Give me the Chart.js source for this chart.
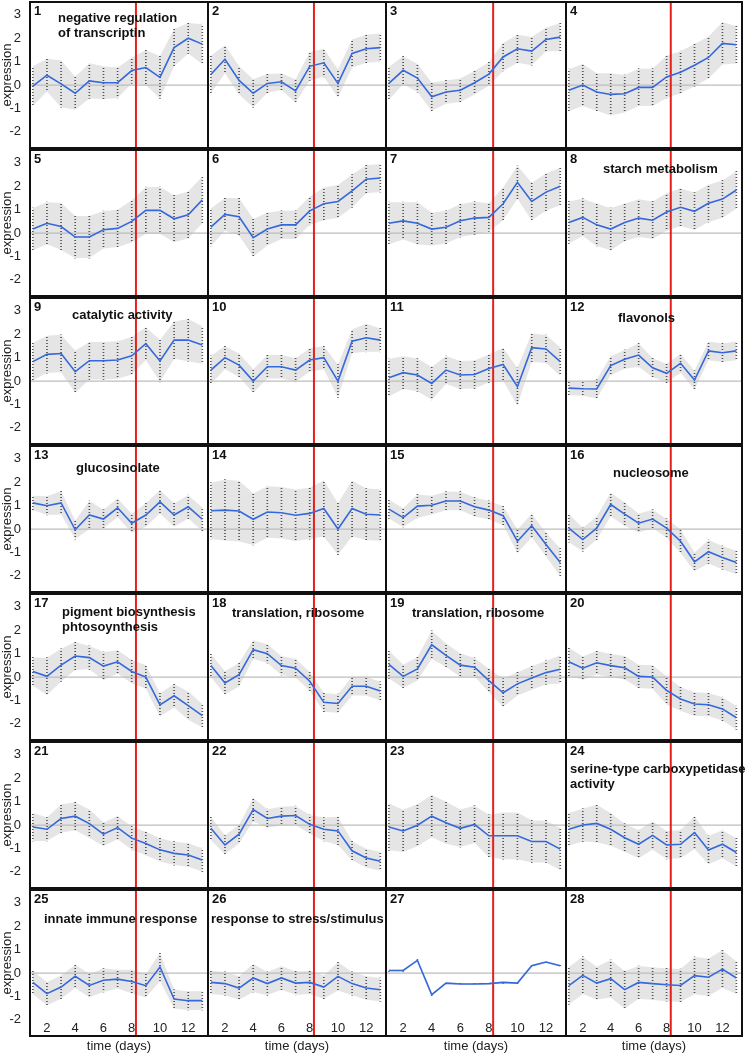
<!DOCTYPE html>
<html>
<head>
<meta charset="utf-8">
<script src="https://cdn.jsdelivr.net/npm/chart.js@4.4.1/dist/chart.umd.min.js"></script>
<style>
  body { margin: 0; background: #fff; width: 749px; height: 1053px; position: relative; overflow: hidden;
         font-family: "Liberation Sans", Arial, sans-serif; }
  canvas { position: absolute; }
  .box { position: absolute; border: 2px solid #111; box-sizing: border-box; pointer-events: none; }
  .num, .ttl { position: absolute; font-weight: bold; font-size: 13px; line-height: 15px; color: #111; white-space: nowrap; }
</style>
</head>
<body>
<script>
// time points (days) and the treatment day marked in red
const days = [1, 2, 3, 4, 5, 6, 7, 8, 9, 10, 11, 12, 13];
const treatmentDay = 8.3;
const xTicks = [2, 4, 6, 8, 10, 12];
const yTicks = [-2, -1, 0, 1, 2, 3];

// cluster mean profiles
const c1  = [-0.05, 0.42, 0.05, -0.35, 0.18, 0.1, 0.1, 0.62, 0.75, 0.33, 1.6, 2.0, 1.75];
const c2  = [0.45, 1.1, 0.2, -0.35, 0.07, 0.14, -0.25, 0.8, 0.95, 0.07, 1.35, 1.55, 1.6];
const c3  = [0.07, 0.63, 0.3, -0.5, -0.3, -0.22, 0.1, 0.47, 1.2, 1.55, 1.45, 1.95, 2.05];
const c4  = [-0.22, 0, -0.3, -0.4, -0.37, -0.1, -0.1, 0.35, 0.55, 0.85, 1.18, 1.78, 1.72];
const c5  = [0.17, 0.42, 0.28, -0.17, -0.17, 0.14, 0.2, 0.5, 0.97, 0.97, 0.61, 0.78, 1.42];
const c6  = [0.25, 0.8, 0.7, -0.2, 0.17, 0.35, 0.35, 0.95, 1.25, 1.35, 1.8, 2.3, 2.35];
const c7  = [0.42, 0.52, 0.42, 0.17, 0.25, 0.53, 0.64, 0.67, 1.25, 2.17, 1.35, 1.75, 2.0];
const c8  = [0.45, 0.67, 0.35, 0.17, 0.45, 0.64, 0.55, 0.9, 1.1, 0.93, 1.27, 1.45, 1.84];
const c9  = [0.83, 1.14, 1.18, 0.4, 0.87, 0.87, 0.9, 1.08, 1.6, 0.86, 1.75, 1.75, 1.54];
const c10 = [0.47, 1.0, 0.68, 0, 0.61, 0.61, 0.47, 0.9, 1.0, 0, 1.7, 1.85, 1.75];
const c11 = [0.14, 0.36, 0.26, -0.1, 0.47, 0.26, 0.28, 0.54, 0.71, -0.24, 1.43, 1.37, 0.83];
const c12 = [-0.3, -0.33, -0.34, 0.66, 0.93, 1.11, 0.57, 0.33, 0.76, 0.04, 1.29, 1.21, 1.29];
const c13 = [1.12, 1.0, 1.12, -0.03, 0.6, 0.43, 0.91, 0.25, 0.6, 1.16, 0.6, 0.95, 0.42];
const c14 = [0.78, 0.81, 0.77, 0.42, 0.73, 0.7, 0.59, 0.67, 0.88, 0, 0.88, 0.63, 0.6];
const c15 = [0.85, 0.49, 0.98, 1.02, 1.2, 1.2, 0.95, 0.81, 0.57, -0.52, 0.14, -0.66, -1.43];
const c16 = [0.04, -0.45, 0.04, 1.05, 0.64, 0.25, 0.43, 0.04, -0.52, -1.4, -0.97, -1.22, -1.43];
const c17 = [0.24, 0.03, 0.51, 0.9, 0.83, 0.47, 0.65, 0.24, 0, -1.19, -0.8, -1.22, -1.65];
const c18 = [0.49, -0.25, 0.1, 1.17, 1.0, 0.49, 0.38, -0.18, -1.08, -1.13, -0.39, -0.39, -0.6];
const c19 = [0.54, 0.03, 0.35, 1.38, 0.93, 0.51, 0.42, -0.15, -0.67, -0.29, -0.04, 0.19, 0.33];
const c20 = [0.65, 0.38, 0.61, 0.49, 0.4, 0.03, 0, -0.57, -0.94, -1.15, -1.18, -1.36, -1.74];
const c21 = [-0.08, -0.18, 0.28, 0.38, 0.06, -0.39, -0.11, -0.56, -0.79, -1.06, -1.21, -1.28, -1.49];
const c22 = [-0.14, -0.85, -0.39, 0.66, 0.28, 0.38, 0.41, 0.03, -0.18, -0.25, -1.1, -1.41, -1.55];
const c23 = [-0.08, -0.25, -0.01, 0.38, 0.1, -0.14, 0.03, -0.46, -0.46, -0.46, -0.7, -0.7, -1.03];
const c24 = [-0.18, 0, 0.07, -0.18, -0.54, -0.82, -0.44, -0.85, -0.82, -0.32, -1.07, -0.82, -1.17];
const c25 = [-0.4, -0.88, -0.6, -0.14, -0.53, -0.31, -0.26, -0.36, -0.54, 0.26, -1.11, -1.18, -1.18];
const c26 = [-0.4, -0.45, -0.64, -0.21, -0.45, -0.21, -0.43, -0.4, -0.6, -0.14, -0.45, -0.64, -0.71];
const c27 = [0.11, 0.11, 0.54, -0.92, -0.43, -0.47, -0.47, -0.45, -0.4, -0.43, 0.31, 0.47, 0.31];
const c28 = [-0.54, -0.1, -0.43, -0.24, -0.71, -0.4, -0.45, -0.5, -0.53, -0.11, -0.18, 0.17, -0.21];

// half-width of the gene cloud around each mean
const s1  = [0.85, 0.7, 1.0, 0.7, 0.75, 0.7, 0.65, 0.55, 0.75, 0.9, 0.8, 0.65, 0.85];
const s2  = [0.8, 0.6, 0.6, 0.6, 0.4, 0.35, 0.5, 0.6, 0.6, 0.6, 0.6, 0.6, 0.6];
const s3  = [0.7, 0.6, 0.6, 0.6, 0.5, 0.5, 0.5, 0.5, 0.6, 0.6, 0.6, 0.5, 0.6];
const s4  = [0.9, 0.9, 0.8, 0.9, 0.8, 0.8, 0.8, 0.9, 0.9, 0.9, 0.9, 0.9, 0.8];
const s5  = [0.9, 0.9, 1.0, 0.9, 0.9, 0.8, 0.8, 0.9, 1.0, 1.0, 1.0, 1.0, 1.0];
const s6  = [0.8, 0.7, 0.8, 0.8, 0.7, 0.6, 0.6, 0.6, 0.7, 0.7, 0.7, 0.6, 0.6];
const s7  = [0.9, 0.8, 0.9, 0.7, 0.7, 0.7, 0.7, 0.6, 0.7, 0.7, 0.8, 0.8, 0.8];
const s8  = [0.9, 0.8, 0.9, 0.9, 0.8, 0.8, 0.8, 0.8, 0.8, 0.8, 0.8, 0.8, 0.8];
const s9  = [0.8, 0.8, 0.8, 0.9, 0.8, 0.8, 0.8, 0.8, 0.7, 0.9, 0.8, 0.9, 0.8];
const s10 = [0.6, 0.5, 0.5, 0.5, 0.5, 0.5, 0.5, 0.5, 0.5, 0.7, 0.5, 0.6, 0.5];
const s11 = [0.8, 0.7, 0.7, 0.7, 0.6, 0.6, 0.6, 0.6, 0.7, 0.8, 0.6, 0.6, 0.6];
const s12 = [0.3, 0.3, 0.4, 0.4, 0.4, 0.5, 0.4, 0.4, 0.4, 0.4, 0.4, 0.4, 0.4];
const s13 = [0.3, 0.4, 0.5, 0.4, 0.6, 0.4, 0.4, 0.4, 0.5, 0.5, 0.5, 0.5, 0.5];
const s14 = [1.2, 1.3, 1.3, 1.1, 1.1, 1.1, 1.1, 1.1, 1.2, 1.1, 1.2, 1.1, 1.1];
const s15 = [0.4, 0.4, 0.5, 0.4, 0.4, 0.4, 0.4, 0.4, 0.4, 0.5, 0.5, 0.5, 0.6];
const s16 = [0.6, 0.5, 0.5, 0.5, 0.5, 0.4, 0.4, 0.4, 0.5, 0.4, 0.5, 0.5, 0.5];
const s17 = [0.6, 0.8, 0.7, 0.6, 0.5, 0.6, 0.5, 0.5, 0.5, 0.5, 0.5, 0.6, 0.5];
const s18 = [0.5, 0.5, 0.5, 0.4, 0.4, 0.4, 0.4, 0.4, 0.4, 0.4, 0.4, 0.4, 0.4];
const s19 = [0.6, 0.5, 0.5, 0.6, 0.5, 0.5, 0.4, 0.5, 0.6, 0.5, 0.5, 0.5, 0.6];
const s20 = [0.6, 0.5, 0.5, 0.5, 0.5, 0.5, 0.5, 0.6, 0.5, 0.5, 0.5, 0.5, 0.5];
const s21 = [0.6, 0.5, 0.6, 0.6, 0.6, 0.5, 0.5, 0.5, 0.5, 0.5, 0.5, 0.5, 0.5];
const s22 = [0.5, 0.4, 0.4, 0.5, 0.4, 0.4, 0.4, 0.4, 0.5, 0.6, 0.4, 0.4, 0.4];
const s23 = [1.0, 0.9, 0.9, 0.9, 0.9, 0.8, 0.8, 0.9, 1.0, 1.0, 0.9, 0.9, 0.9];
const s24 = [0.7, 0.7, 0.8, 0.7, 0.6, 0.6, 0.6, 0.6, 0.6, 0.7, 0.6, 0.6, 0.6];
const s25 = [0.5, 0.5, 0.5, 0.5, 0.5, 0.5, 0.4, 0.5, 0.5, 0.6, 0.4, 0.4, 0.4];
const s26 = [0.5, 0.5, 0.5, 0.6, 0.5, 0.5, 0.5, 0.5, 0.5, 0.6, 0.5, 0.5, 0.5];
const s27 = [0.04, 0.04, 0.04, 0.04, 0.04, 0.04, 0.04, 0.04, 0.04, 0.04, 0.04, 0.04, 0.04];
const s28 = [0.8, 0.8, 0.7, 0.8, 0.8, 0.7, 0.7, 0.7, 0.7, 0.8, 0.8, 0.8, 0.7];

// enriched terms, by cluster number
const clusterNames = {
  1: ['negative regulation', 'of transcriptin'],
  8: ['starch metabolism'],
  9: ['catalytic activity'],
  12: ['flavonols'],
  13: ['glucosinolate'],
  16: ['nucleosome'],
  17: ['pigment biosynthesis', 'phtosoynthesis'],
  18: ['translation, ribosome'],
  19: ['translation, ribosome'],
  24: ['serine-type carboxypetidase', 'activity'],
  25: ['innate immune response'],
  26: ['response to stress/stimulus']
};

const means = [c1,c2,c3,c4,c5,c6,c7,c8,c9,c10,c11,c12,c13,c14,c15,c16,c17,c18,c19,c20,c21,c22,c23,c24,c25,c26,c27,c28];
const spreads = [s1,s2,s3,s4,s5,s6,s7,s8,s9,s10,s11,s12,s13,s14,s15,s16,s17,s18,s19,s20,s21,s22,s23,s24,s25,s26,s27,s28];

// layout
const colLeft = [30, 208, 386, 566];
const colRight = [208, 386, 566, 742];
const rowStep = 148, panelH = 146, yAxisW = 30, xAxisH = 24;
const xMin = 0.8, xMax = 13.4, yMin = -2.69, yMax = 3.55;
const namePos = {
  1: [58, 10], 8: [603, 161], 9: [72, 307], 12: [618, 310], 13: [76, 460], 16: [613, 465],
  17: [62, 604], 18: [232, 605], 19: [412, 605], 24: [570, 761], 25: [44, 911], 26: [211, 911]
};

// dotted texture for the columns of gene values
const dotCv = document.createElement('canvas');
dotCv.width = 1; dotCv.height = 3;
const dctx = dotCv.getContext('2d');
dctx.fillStyle = 'rgba(30,30,30,0.75)';
dctx.fillRect(0, 0, 1, 1);
const dotPattern = dctx.createPattern(dotCv, 'repeat');

const font13 = { family: '"Liberation Sans", Arial, sans-serif', size: 13 };

means.forEach((m, i) => {
  const r = Math.floor(i / 4), c = i % 4;
  const L = colLeft[c], T = 2 + r * rowStep, W = colRight[c] - L;
  const first = c === 0, last = r === 6;

  const cv = document.createElement('canvas');
  const cw = W + (first ? yAxisW : 0), ch = panelH + (last ? xAxisH : 0);
  cv.width = cw; cv.height = ch;
  cv.style.left = (first ? L - yAxisW : L) + 'px';
  cv.style.top = T + 'px';
  cv.style.width = cw + 'px'; cv.style.height = ch + 'px';
  document.body.appendChild(cv);

  const s = spreads[i];
  const meanPts = days.map((d, k) => ({ x: d, y: m[k] }));
  const hiPts = days.map((d, k) => ({ x: d, y: m[k] + s[k] }));
  const loPts = days.map((d, k) => ({ x: d, y: m[k] - s[k] }));
  const cols = days.map((d, k) => ({ x: d, y: [m[k] - s[k], m[k] + s[k]] }));

  new Chart(cv, {
    type: 'line',
    data: {
      datasets: [{
        data: meanPts,
        borderColor: '#3468dc',
        borderWidth: 1.6,
        tension: 0
      }, {
        data: [{ x: treatmentDay, y: yMin }, { x: treatmentDay, y: yMax }],
        borderColor: '#e5201b',
        borderWidth: 2
      }, {
        data: [{ x: xMin, y: 0 }, { x: xMax, y: 0 }],
        borderColor: '#bdbdbd',
        borderWidth: 1.2
      }, {
        type: 'bar',
        data: cols,
        backgroundColor: dotPattern,
        barThickness: 1,
        borderWidth: 0
      }, {
        data: hiPts,
        borderWidth: 0,
        backgroundColor: 'rgba(150,150,150,0.25)',
        fill: '+1'
      }, {
        data: loPts,
        borderWidth: 0
      }]
    },
    options: {
      responsive: false,
      animation: false,
      layout: { padding: 0 },
      elements: { point: { radius: 0 } },
      plugins: { legend: { display: false }, tooltip: { enabled: false } },
      scales: {
        x: {
          type: 'linear', min: xMin, max: xMax, offset: false, display: last,
          grid: { display: false, drawTicks: false }, border: { display: false },
          afterBuildTicks: sc => { sc.ticks = xTicks.map(v => ({ value: v })); },
          ticks: { mirror: true, padding: 0, font: font13, color: '#222', maxRotation: 0, autoSkip: false },
          title: { display: true, text: 'time (days)', font: font13, color: '#222', padding: { top: 0, bottom: 6 } },
          afterFit: sc => {
            if (last) sc.height = xAxisH;
            sc.paddingLeft = 0; sc.paddingRight = 0;
          }
        },
        y: {
          min: yMin, max: yMax, display: first,
          grid: { display: false, drawTicks: false }, border: { display: false },
          afterBuildTicks: sc => { sc.ticks = yTicks.map(v => ({ value: v })); },
          ticks: { padding: 9, font: font13, color: '#222' },
          title: { display: true, text: 'expression', font: font13, color: '#222', padding: 0 },
          afterFit: sc => {
            if (first) sc.width = yAxisW;
            sc.paddingTop = 0; sc.paddingBottom = 0;
          }
        }
      }
    }
  });

  const box = document.createElement('div');
  box.className = 'box';
  box.style.left = (L - 1) + 'px'; box.style.top = (T - 1) + 'px';
  box.style.width = (W + 2) + 'px'; box.style.height = (panelH + 2) + 'px';
  document.body.appendChild(box);

  const num = document.createElement('div');
  num.className = 'num';
  num.textContent = String(i + 1);
  num.style.left = (L + 4) + 'px'; num.style.top = (T + 1) + 'px';
  document.body.appendChild(num);

  const name = clusterNames[i + 1];
  if (name) {
    const t = document.createElement('div');
    t.className = 'ttl';
    t.innerHTML = name.join('<br>');
    t.style.left = namePos[i + 1][0] + 'px'; t.style.top = namePos[i + 1][1] + 'px';
    document.body.appendChild(t);
  }
});
</script>
</body>
</html>
